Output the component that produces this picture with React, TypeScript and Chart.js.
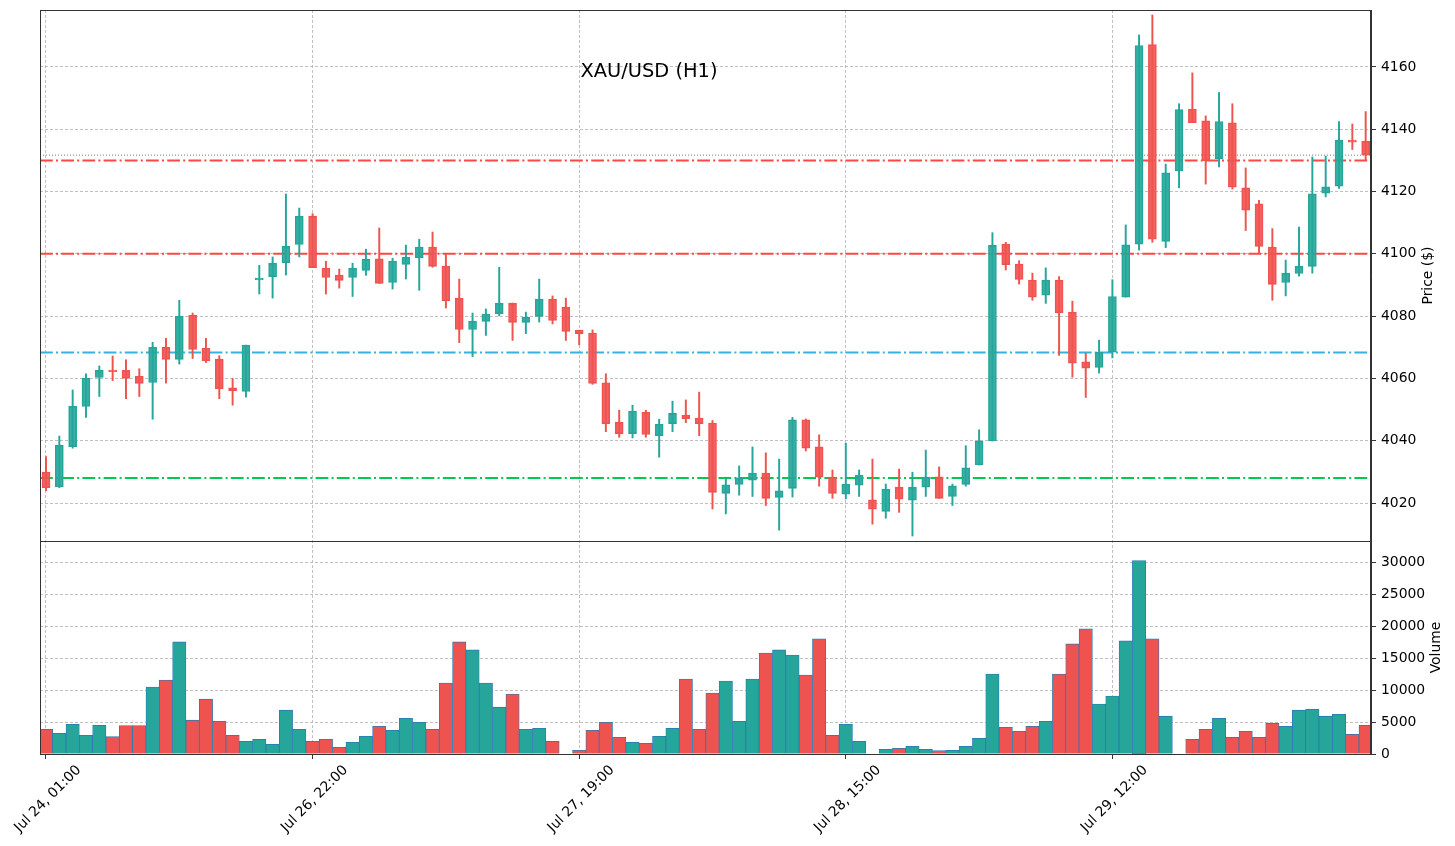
import React, { useEffect, useRef } from "react";
import { Chart, registerables } from "chart.js";

Chart.register(...registerables);

// ---------------- data ----------------
const opens = [
  4029.9, 4025.2, 4038.1, 4051.0, 4060.3, 4062.7, 4062.6, 4060.7, 4058.7, 4070.0,
  4066.1, 4080.3, 4069.7, 4066.2, 4057.0, 4055.8, 4091.6, 4092.7, 4097.2, 4103.0,
  4112.1, 4095.4, 4093.2, 4092.4, 4094.7, 4098.4, 4090.8, 4096.6, 4098.8, 4102.2,
  4096.1, 4085.8, 4075.7, 4078.3, 4080.8, 4084.2, 4078.0, 4079.9, 4085.5, 4082.9,
  4075.5, 4074.6, 4058.6, 4045.9, 4042.3, 4049.1, 4041.6, 4045.5, 4048.2, 4047.3,
  4045.7, 4023.1, 4026.0, 4027.3, 4029.6, 4021.8, 4024.7, 4046.7, 4038.0, 4028.3,
  4022.8, 4025.7, 4021.0, 4017.3, 4025.1, 4020.9, 4025.1, 4028.4, 4022.1, 4026.0,
  4032.2, 4039.9, 4103.1, 4096.7, 4091.6, 4086.7, 4091.6, 4081.3, 4065.3, 4063.5,
  4068.4, 4086.1, 4103.1, 4167.2, 4104.0, 4126.6, 4146.5, 4142.7, 4130.6, 4142.1,
  4121.2, 4116.1, 4102.2, 4090.8, 4093.7, 4096.0, 4119.5, 4121.7, 4136.5, 4136.1,
];
const highs = [
  4034.9, 4041.5, 4056.3, 4061.5, 4064.0, 4067.2, 4066.0, 4063.1, 4071.6, 4072.9,
  4085.1, 4081.0, 4072.9, 4067.3, 4060.0, 4070.7, 4096.3, 4099.0, 4119.2, 4114.7,
  4112.9, 4097.6, 4095.1, 4097.0, 4101.5, 4108.3, 4098.6, 4102.8, 4104.7, 4107.0,
  4099.8, 4091.9, 4081.0, 4082.3, 4095.7, 4084.2, 4081.3, 4091.9, 4086.5, 4085.8,
  4075.5, 4075.6, 4061.5, 4049.8, 4051.4, 4049.8, 4046.9, 4052.7, 4053.1, 4055.6,
  4046.5, 4028.3, 4031.9, 4038.0, 4036.1, 4034.1, 4047.5, 4047.0, 4041.9, 4030.6,
  4039.2, 4030.6, 4034.1, 4026.1, 4030.9, 4029.9, 4037.0, 4031.6, 4026.1, 4038.4,
  4043.5, 4106.8, 4103.7, 4097.8, 4093.8, 4095.5, 4092.7, 4084.8, 4068.1, 4072.3,
  4091.7, 4109.3, 4170.3, 4176.7, 4128.8, 4148.2, 4158.1, 4144.3, 4151.8, 4148.2,
  4127.6, 4117.2, 4108.1, 4098.0, 4108.6, 4131.1, 4131.4, 4142.5, 4141.7, 4145.7,
];
const lows = [
  4024.0, 4024.9, 4037.6, 4047.5, 4054.2, 4059.3, 4053.5, 4054.2, 4046.9, 4058.5,
  4064.6, 4066.4, 4065.1, 4053.5, 4051.4, 4054.0, 4087.1, 4085.8, 4093.2, 4099.0,
  4095.6, 4087.1, 4089.0, 4086.3, 4093.1, 4090.5, 4088.7, 4091.9, 4088.3, 4095.7,
  4082.6, 4071.5, 4067.0, 4073.8, 4080.1, 4072.2, 4074.4, 4078.1, 4077.5, 4072.2,
  4070.8, 4058.1, 4042.9, 4041.1, 4040.9, 4041.1, 4034.7, 4042.9, 4045.8, 4041.6,
  4018.1, 4016.5, 4022.5, 4022.1, 4019.2, 4011.3, 4021.9, 4036.7, 4025.4, 4021.5,
  4021.3, 4022.1, 4013.2, 4015.1, 4017.0, 4009.4, 4022.1, 4021.5, 4019.2, 4025.4,
  4032.2, 4039.9, 4094.8, 4090.3, 4085.1, 4084.1, 4067.4, 4060.4, 4053.9, 4061.7,
  4066.6, 4086.1, 4101.2, 4103.7, 4102.0, 4121.2, 4142.1, 4122.4, 4127.9, 4120.8,
  4107.5, 4100.0, 4085.1, 4086.5, 4092.8, 4093.8, 4118.3, 4121.0, 4133.5, 4129.9,
];
const closes = [
  4024.9, 4038.5, 4051.1, 4060.1, 4062.6, 4062.2, 4060.0, 4058.4, 4070.0, 4066.1,
  4080.0, 4069.3, 4065.7, 4056.7, 4056.1, 4070.7, 4092.2, 4097.0, 4102.5, 4112.1,
  4095.6, 4092.4, 4091.5, 4095.4, 4098.3, 4090.5, 4097.7, 4099.0, 4102.2, 4096.0,
  4085.0, 4075.7, 4078.4, 4080.7, 4084.2, 4078.0, 4079.7, 4085.5, 4078.6, 4075.1,
  4074.4, 4058.4, 4045.5, 4042.3, 4049.5, 4042.0, 4045.3, 4048.8, 4047.1, 4045.5,
  4023.4, 4025.8, 4028.1, 4029.6, 4021.5, 4023.9, 4046.7, 4037.6, 4028.3, 4023.1,
  4026.1, 4029.0, 4018.0, 4024.5, 4021.2, 4025.1, 4028.3, 4021.5, 4025.5, 4031.3,
  4039.9, 4102.7, 4096.5, 4091.8, 4086.1, 4091.6, 4081.0, 4064.9, 4063.3, 4068.4,
  4086.3, 4102.9, 4166.9, 4104.7, 4126.0, 4146.3, 4142.1, 4129.9, 4142.5, 4121.4,
  4114.0, 4102.4, 4090.2, 4093.8, 4096.1, 4119.3, 4121.5, 4136.5, 4135.9, 4131.7,
];
const volumes = [
  3880, 3250, 4670, 2940, 4510, 2730, 4460, 4460, 10490, 11590,
  17570, 5300, 8600, 5140, 2940, 1990, 2310, 1520, 6870, 3880,
  1990, 2310, 1050, 1840, 2780, 4350, 3730, 5610, 4980, 3880,
  11120, 17570, 16320, 11120, 7340, 9390, 3880, 4040, 1990, 0,
  580, 3730, 4980, 2620, 1840, 1680, 2780, 4040, 11750, 3880,
  9550, 11440, 5140, 11750, 15840, 16320, 15530, 12380, 18050, 2940,
  4670, 1990, 0, 730, 890, 1210, 730, 530, 580, 1210,
  2470, 12540, 4200, 3570, 4350, 5140, 12540, 17260, 19620, 7820,
  9080, 17730, 30320, 18050, 5930, 0, 2310, 3880, 5610, 2620,
  3570, 2620, 4830, 4350, 6870, 7030, 5930, 6240, 3100, 4510,
];
const tickPositions = [0, 20, 40, 60, 80];
const tickLabels = ["Jul 24, 01:00", "Jul 26, 22:00", "Jul 27, 19:00", "Jul 28, 15:00", "Jul 29, 12:00"];
const priceTicks = [4020, 4040, 4060, 4080, 4100, 4120, 4140, 4160];
const volumeTicks = [0, 5000, 10000, 15000, 20000, 25000, 30000];
const levelPrices = [4130, 4100, 4068.3, 4028.0];
const chartTitle = "XAU/USD (H1)";
const priceAxisTitle = "Price ($)";
const volumeAxisTitle = "Volume";

// ---------------- styles ----------------
const levelColors = ["#ff4646", "#ff4646", "#35b2e2", "#00c853"];
const UP = "#26a69a";
const DOWN = "#ef5350";
const UP_FILL = "rgba(38,166,154,0.9)";
const DOWN_FILL = "rgba(239,83,80,0.9)";
const VOL_EDGE = "#2a78b4";
const GRID = "#b0b0b0";
const SPINE = "#333333";
const FONT = "DejaVu Sans";
const TICK_FONT = { family: FONT, size: 13.9 };

const overlayPlugin = {
  id: "overlay",
  beforeDatasetsDraw(chart: any) {
    const { ctx, chartArea: a, scales } = chart;
    const y = scales.y;
    ctx.save();
    ctx.beginPath();
    ctx.rect(a.left, y.top, a.right - a.left, y.bottom - y.top);
    ctx.clip();
    levelPrices.forEach((v, k) => {
      const py = y.getPixelForValue(v);
      ctx.strokeStyle = levelColors[k];
      ctx.lineWidth = 2;
      ctx.setLineDash([12.8, 3.2, 2, 3.2]);
      ctx.beginPath();
      ctx.moveTo(a.left, py);
      ctx.lineTo(a.right, py);
      ctx.stroke();
    });
    const lp = y.getPixelForValue(closes[closes.length - 1]);
    ctx.strokeStyle = "#7a7a7a";
    ctx.lineWidth = 1;
    ctx.setLineDash([1, 2]);
    ctx.beginPath();
    ctx.moveTo(a.left, lp);
    ctx.lineTo(a.right, lp);
    ctx.stroke();
    ctx.restore();
  },
  afterDatasetsDraw(chart: any) {
    const { ctx, chartArea: a, scales } = chart;
    ctx.save();
    ctx.strokeStyle = SPINE;
    ctx.lineWidth = 1;
    ctx.setLineDash([]);
    [scales.y, scales.yv].forEach((s: any) => {
      ctx.strokeRect(a.left + 0.5, Math.round(s.top) + 0.5, a.right - a.left - 1, Math.round(s.bottom - s.top));
    });
    ctx.restore();
  },
  afterDraw(chart: any) {
    const { ctx, scales } = chart;
    ctx.save();
    ctx.fillStyle = "#000";
    ctx.font = `19.4px "${FONT}"`;
    ctx.textAlign = "center";
    ctx.textBaseline = "alphabetic";
    ctx.fillText(chartTitle, 649, 76.7);
    ctx.font = `13.9px "${FONT}"`;
    ctx.textBaseline = "middle";
    const drawV = (text: string, x: number, yc: number) => {
      ctx.save();
      ctx.translate(x, yc);
      ctx.rotate(-Math.PI / 2);
      ctx.fillText(text, 0, 0);
      ctx.restore();
    };
    drawV(priceAxisTitle, 1428, (scales.y.top + scales.y.bottom) / 2);
    drawV(volumeAxisTitle, 1436, (scales.yv.top + scales.yv.bottom) / 2);
    ctx.restore();
  },
};

export default function App() {
  const ref = useRef<HTMLCanvasElement | null>(null);
  useEffect(() => {
    if (!ref.current) return;
    const idx = opens.map((_, i) => i);
    const up = idx.map((i) => closes[i] >= opens[i]);
    const chart = new Chart(ref.current, {
      type: "bar",
      data: {
        datasets: [
          {
            label: "body",
            data: idx.map((i) => ({ x: i, y: [opens[i], closes[i]] })) as any,
            backgroundColor: idx.map((i) => (up[i] ? UP_FILL : DOWN_FILL)),
            borderColor: idx.map((i) => (up[i] ? UP : DOWN)),
            borderWidth: 1,
            borderSkipped: false,
            barThickness: 8,
            minBarLength: 1.5,
            grouped: false,
            yAxisID: "y",
          } as any,
          {
            label: "wick",
            data: idx.map((i) => ({ x: i, y: [lows[i], highs[i]] })) as any,
            backgroundColor: idx.map((i) => (up[i] ? UP : DOWN)),
            borderWidth: 0,
            barThickness: 1.3,
            grouped: false,
            yAxisID: "y",
          } as any,
          {
            label: "volume",
            data: idx.map((i) => ({ x: i, y: volumes[i] })) as any,
            backgroundColor: idx.map((i) => (up[i] ? UP : DOWN)),
            borderColor: VOL_EDGE,
            borderWidth: 0.8,
            barPercentage: 1,
            categoryPercentage: 1,
            grouped: false,
            yAxisID: "yv",
          } as any,
        ],
      },
      options: {
        responsive: false,
        animation: false,
        devicePixelRatio: 1,
        layout: { padding: { left: 40, top: 10, right: 0, bottom: 0 } },
        plugins: { legend: { display: false }, tooltip: { enabled: false }, title: { display: false } },
        scales: {
          x: {
            type: "linear",
            offset: false,
            min: -0.45,
            max: 99.4,
            afterBuildTicks: (s: any) => {
              s.ticks = tickPositions.map((v) => ({ value: v }));
            },
            afterFit: (s: any) => {
              s.height = 92;
              s.paddingLeft = 0;
              s.paddingRight = 0;
            },
            ticks: {
              autoSkip: false,
              minRotation: 45,
              maxRotation: 45,
              labelOffset: 33,
              padding: 3,
              color: "#000",
              font: TICK_FONT,
              callback: (v: any) => {
                const k = tickPositions.indexOf(Number(v));
                return k >= 0 ? tickLabels[k] : "";
              },
            },
            grid: { offset: false, color: GRID, lineWidth: 0.8, tickLength: 5, tickColor: SPINE, tickWidth: 1 },
            border: { display: true, color: SPINE, dash: [3, 2] },
          },
          y: {
            type: "linear",
            position: "right",
            stack: "panels",
            stackWeight: 531,
            min: 4007.8,
            max: 4178.3,
            afterBuildTicks: (s: any) => {
              s.ticks = priceTicks.map((v) => ({ value: v }));
            },
            afterFit: (s: any) => {
              s.width = 84;
              s.paddingTop = 0;
              s.paddingBottom = 0;
            },
            ticks: { color: "#000", font: TICK_FONT, padding: 5, callback: (v: any) => String(v) },
            grid: { color: GRID, lineWidth: 0.8, tickLength: 5, tickColor: SPINE, tickWidth: 1 },
            border: { display: true, color: SPINE, dash: [3, 2] },
          },
          yv: {
            type: "linear",
            position: "right",
            stack: "panels",
            stackWeight: 213,
            min: 0,
            max: 33400,
            afterBuildTicks: (s: any) => {
              s.ticks = volumeTicks.map((v) => ({ value: v }));
            },
            afterFit: (s: any) => {
              s.width = 84;
              s.paddingTop = 0;
              s.paddingBottom = 0;
            },
            ticks: { color: "#000", font: TICK_FONT, padding: 5, callback: (v: any) => String(v) },
            grid: { color: GRID, lineWidth: 0.8, tickLength: 5, tickColor: SPINE, tickWidth: 1 },
            border: { display: true, color: SPINE, dash: [3, 2] },
          },
        } as any,
      },
      plugins: [overlayPlugin],
    });
    return () => chart.destroy();
  }, []);
  return (
    <div style={{ position: "absolute", left: 0, top: 0, width: 1455, height: 846, background: "#fff" }}>
      <canvas ref={ref} width={1455} height={846} style={{ display: "block" }} />
    </div>
  );
}
